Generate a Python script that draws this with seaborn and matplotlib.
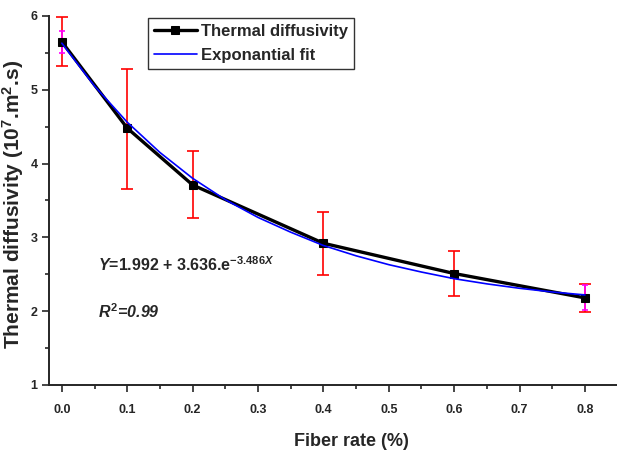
import matplotlib
matplotlib.use("Agg")
import matplotlib.pyplot as plt
from matplotlib.ticker import MultipleLocator
import pandas as pd
import seaborn as sns

# measured thermal diffusivity vs fiber rate
fiber_rate = [0.0, 0.1, 0.2, 0.4, 0.6, 0.8]
diffusivity = [5.65, 4.48, 3.71, 2.92, 2.51, 2.18]
err_low = [0.33, 0.82, 0.45, 0.43, 0.31, 0.19]
err_high = [0.33, 0.80, 0.46, 0.43, 0.30, 0.19]

# second (magenta) error bars at the end points
end_x = [0.0, 0.8]
end_y = [5.65, 2.18]
end_err = [0.15, 0.17]

# exponential fit curve
fit_x = [0.0, 0.05, 0.1, 0.15, 0.2, 0.25, 0.3, 0.35, 0.4,
         0.45, 0.5, 0.55, 0.6, 0.65, 0.7, 0.75, 0.8]
fit_y = [5.63, 5.05, 4.56, 4.15, 3.80, 3.51, 3.27, 3.07, 2.89,
         2.75, 2.63, 2.53, 2.44, 2.37, 2.31, 2.26, 2.22]

sns.set_style("ticks")
plt.rcParams["font.family"] = ["Liberation Sans", "DejaVu Sans"]
plt.rcParams["mathtext.fontset"] = "custom"
plt.rcParams["mathtext.rm"] = "Liberation Sans:bold"
plt.rcParams["mathtext.it"] = "Liberation Sans:bold:italic"
plt.rcParams["mathtext.bf"] = "Liberation Sans:bold"

data = pd.DataFrame({"x": fiber_rate, "y": diffusivity})
fit = pd.DataFrame({"x": fit_x, "y": fit_y})

fig = plt.figure(figsize=(6.17, 4.54), dpi=100)
ax = fig.add_axes([0.079, 0.152, 0.921, 0.813])

ax.errorbar(fiber_rate, diffusivity, yerr=[err_low, err_high], fmt="none",
            ecolor="red", elinewidth=1.2, capsize=4, capthick=1.2, zorder=2)
ax.errorbar(end_x, end_y, yerr=end_err, fmt="none", ecolor="magenta",
            elinewidth=1.2, capsize=2.5, capthick=1.2, zorder=2.5)

sns.lineplot(data=data, x="x", y="y", ax=ax, color="black", linewidth=2.4,
             marker="s", markersize=5.5, markeredgecolor="black",
             label="Thermal diffusivity", zorder=3)
sns.lineplot(data=fit, x="x", y="y", ax=ax, color="blue", linewidth=1.2,
             label="Exponantial fit", zorder=4)

ax.set_xlim(-0.02, 0.849)
ax.set_ylim(1, 6)
ax.xaxis.set_minor_locator(MultipleLocator(0.05))
ax.yaxis.set_major_locator(MultipleLocator(1))
ax.yaxis.set_minor_locator(MultipleLocator(0.5))
ax.set_xticks([0.0, 0.1, 0.2, 0.3, 0.4, 0.5, 0.6, 0.7, 0.8])
ax.set_xticklabels(["0.0", "0.1", "0.2", "0.3", "0.4", "0.5", "0.6", "0.7", "0.8"])
ax.tick_params(axis="both", which="major", length=5, width=1.2, labelsize=9)
ax.tick_params(axis="x", which="major", pad=9)
ax.tick_params(axis="y", which="major", pad=3)
ax.tick_params(axis="both", which="minor", length=3, width=1.2)
for lbl in ax.get_xticklabels() + ax.get_yticklabels():
    lbl.set_fontweight("bold")

sns.despine(ax=ax)
for s in ["left", "bottom"]:
    ax.spines[s].set_linewidth(1.4)

ax.set_xlabel("Fiber rate (%)", fontsize=13, fontweight="bold")
ax.xaxis.set_label_coords(0.533, -0.13)
ax.set_ylabel(r"Thermal diffusivity (10$^{7}$.m$^{2}$.s)", fontsize=15,
              fontweight="bold")
ax.yaxis.set_label_coords(-0.04, 0.49)

ax.text(0.055, 2.63, r"$\mathit{Y}$=1.992 + 3.636.e$^{-3.486\mathit{X}}$",
        fontsize=11.5, fontweight="bold", va="center")
ax.text(0.055, 1.99, r"$R^{2}$=0.99", fontsize=11.5, fontweight="bold",
        fontstyle="italic", va="center")

leg = ax.legend(loc="upper left", bbox_to_anchor=(0.16, 1.016), frameon=True,
                fancybox=False, edgecolor="black", handlelength=2.6,
                borderpad=0.35, labelspacing=0.55, handletextpad=0.25,
                prop={"weight": "bold", "size": 12})
leg.get_frame().set_linewidth(1.0)

fig.savefig("out.png", dpi=100)
